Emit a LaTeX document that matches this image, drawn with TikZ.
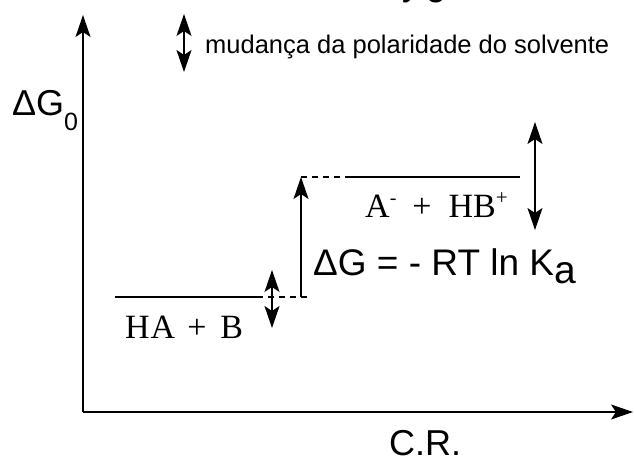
\documentclass[tikz,border=0pt]{standalone}
\usepackage{fontspec}
\setmainfont{Liberation Serif}
\newfontfamily\arialf{Liberation Sans}
\usetikzlibrary{arrows.meta}
\tikzset{
  bigtip/.tip={Stealth[length=22pt,width=15pt,inset=5pt]},
  axisline/.style={line width=1.6pt,-bigtip},
  dblarrow/.style={line width=1.6pt,bigtip-bigtip},
  uparrow/.style={line width=1.6pt,-bigtip},
  levelline/.style={line width=1.4pt},
  dashline/.style={line width=1.4pt,dash pattern=on 6pt off 5pt},
  sanslabel/.style={inner sep=0pt,font=\arialf\fontsize{36}{43}\selectfont},
  eqlabel/.style={inner sep=0pt,font=\arialf\fontsize{37}{44}\selectfont},
  smalllabel/.style={inner sep=0pt,font=\arialf\fontsize{25.5}{30}\selectfont},
  serflabel/.style={inner sep=0pt,font=\fontsize{34}{40}\selectfont},
}
\begin{document}
\begin{tikzpicture}[x=1pt,y=-1pt]
\useasboundingbox (0,0) rectangle (634,463);
% axes
\coordinate (O) at (83,412);
\coordinate (ytop) at (83,15);
\coordinate (xend) at (633,412);
\draw[axisline] (O) -- (ytop);
\draw[axisline] (O) -- (xend);
% cut-off text at top
\node[sanslabel,anchor=base west] (toptext) at (402,-4.5) {y\hspace{6pt}g};
% solvent polarity arrow
\coordinate (sa) at (184,14);
\coordinate (sb) at (184,72);
\draw[dblarrow] (sa) -- (sb);
\node[smalllabel,anchor=base west] (solv) at (205,53) {mudança da polaridade do solvente};
% Delta G0
\node[sanslabel,anchor=base west] (dg0) at (12,115) {ΔG\raisebox{-15pt}{\fontsize{25}{30}\selectfont 0}};
% lower level
\coordinate (l1) at (115,297);
\coordinate (l2) at (257,297);
\coordinate (l3) at (308,297);
\draw[levelline] (l1) -- (l2);
\draw[dashline] (l2) -- (l3);
\node[serflabel,anchor=base west] (reac) at (125,338) {H\kern1pt A\hspace{12pt}+\hspace{14pt}B};
% upper level
\coordinate (u1) at (301,177);
\coordinate (u2) at (345,177);
\coordinate (u3) at (520,177);
\draw[dashline] (u1) -- (u2);
\draw[levelline] (u2) -- (u3);
\node[serflabel,anchor=base west] (prod) at (365,217) {A\raisebox{13pt}{\fontsize{20}{24}\selectfont -}\hspace{16pt}+\hspace{17pt}HB\raisebox{13pt}{\fontsize{21}{25}\selectfont +}};
% Delta G arrow
\coordinate (va) at (301,297);
\draw[uparrow] (va) -- (u1);
\node[eqlabel,anchor=base west] (eq) at (313,275) {ΔG = - RT ln K\raisebox{-8pt}{\fontsize{39}{45}\selectfont a}};
% double arrows
\coordinate (ra) at (535,122);
\coordinate (rb) at (535,230);
\draw[dblarrow] (ra) -- (rb);
\coordinate (la) at (272,270);
\coordinate (lb) at (272,328);
\draw[dblarrow] (la) -- (lb);
% C.R.
\node[sanslabel,anchor=base west] (cr) at (389,455) {C.R.};
\end{tikzpicture}
\end{document}
